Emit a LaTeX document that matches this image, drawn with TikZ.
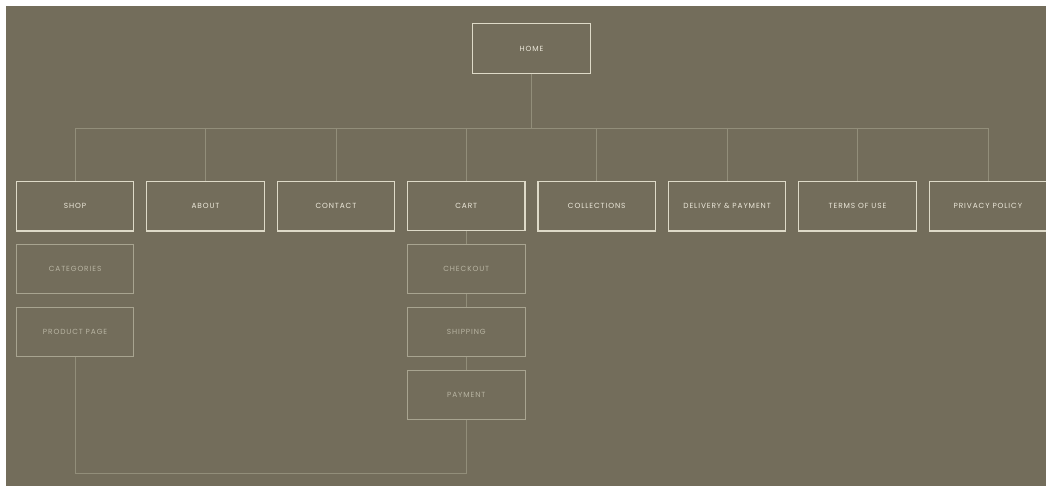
\documentclass[tikz,border=0pt]{standalone}
\usepackage{fontspec}
\newfontfamily\navfont[LetterSpace=12]{Poppins}
\usetikzlibrary{matrix,positioning}
\definecolor{sitebg}{RGB}{115,109,91}
\definecolor{pageline}{RGB}{222,218,200}
\definecolor{pagetext}{RGB}{236,232,218}
\definecolor{subline}{RGB}{168,164,144}
\definecolor{subtext}{RGB}{184,180,162}
\definecolor{linkline}{RGB}{146,142,122}
\tikzset{
  page/.style={draw=pageline, line width=1.2pt, text=pagetext, font=\navfont\fontsize{7.4}{9}\selectfont,
    minimum width=117.5pt, minimum height=49.5pt, inner sep=0pt},
  subpage/.style={page, draw=subline, line width=1pt, text=subtext},
  link/.style={draw=linkline, line width=0.8pt}
}
\begin{document}
\begin{tikzpicture}[x=1pt, y=1pt]
    \fill[white] (0,0) rectangle (1046,-486);
    \fill[sitebg] (6,-6) rectangle (1046,-486);
    \useasboundingbox (0,0) rectangle (1046,-486);
    \node[page] (home) at (531.5,-48.5) {HOME};
    \matrix(site)[matrix of nodes, ampersand replacement=\&, nodes={page},
      column sep=11.7pt, row sep=12.4pt, inner sep=0pt] at (531.5,-300.5) {
      SHOP \& ABOUT \& CONTACT \& CART \& COLLECTIONS \& DELIVERY {\char38} PAYMENT \& TERMS OF USE \& PRIVACY POLICY \\
      |[subpage]| CATEGORIES \& \& \& |[subpage]| CHECKOUT \& \& \& \& \\
      |[subpage]| PRODUCT PAGE \& \& \& |[subpage]| SHIPPING \& \& \& \& \\
      \& \& \& |[subpage]| PAYMENT \& \& \& \& \\ };
    \coordinate (bus) at (531.5,-128);
    \coordinate[below=53pt of site-4-4.south] (back);
    \path[link] (home) -- (bus);
    \foreach \col in {1,...,8}
      \path[link] (site-1-\col.north) |- (bus);
    \path[link] (site-1-4) -- (site-2-4);
    \path[link] (site-2-4) -- (site-3-4);
    \path[link] (site-3-4) -- (site-4-4);
    \path[link] (site-3-1.south) |- (back) -- (site-4-4.south);
  \end{tikzpicture}
\end{document}
